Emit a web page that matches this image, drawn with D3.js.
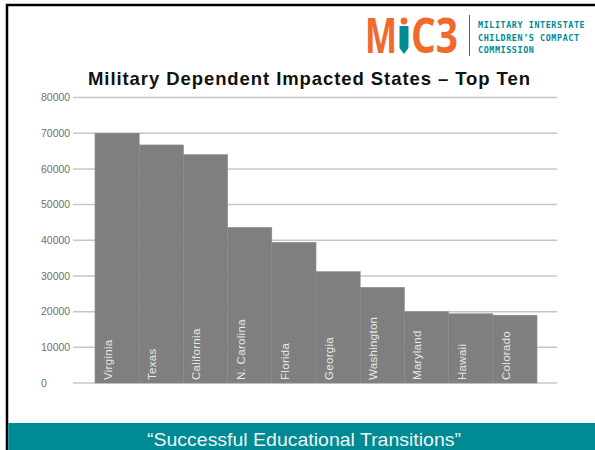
<!DOCTYPE html>
<html>
<head>
<meta charset="UTF-8">
<script src="https://d3js.org/d3.v7.min.js"></script>
<style>
  body { margin: 0; background: #fff; }
  svg { display: block; }
</style>
</head>
<body>
<div id="chart"></div>
<script>
// chart data
var states = ["Virginia", "Texas", "California", "N. Carolina", "Florida",
              "Georgia", "Washington", "Maryland", "Hawaii", "Colorado"];
var dependents = [70000, 66700, 64000, 43600, 39400, 31200, 26800, 20000, 19400, 19000];
var yTicks = [0, 10000, 20000, 30000, 40000, 50000, 60000, 70000, 80000];

var W = 595, H = 450;
var teal = "#008a93", orange = "#f26a2a";

var svg = d3.select("#chart").append("svg")
    .attr("width", W).attr("height", H);

// slide frame
svg.append("line").attr("x1", 6).attr("x2", W).attr("y1", 5).attr("y2", 5)
    .attr("stroke", "#000").attr("stroke-width", 2.5);
svg.append("line").attr("x1", 7).attr("x2", 7).attr("y1", 4).attr("y2", H)
    .attr("stroke", "#000").attr("stroke-width", 2.5);

// logo
var logo = svg.append("g");
logo.append("text").attr("x", 365).attr("y", 53)
    .attr("textLength", 32).attr("lengthAdjust", "spacingAndGlyphs")
    .style("font-family", "Open Sans").style("font-weight", 700)
    .style("font-size", "49px").attr("fill", orange).text("M");
logo.append("text").attr("x", 411).attr("y", 53)
    .attr("textLength", 47).attr("lengthAdjust", "spacingAndGlyphs")
    .style("font-family", "Open Sans").style("font-weight", 700)
    .style("font-size", "49px").attr("fill", orange).text("C3");
// pencil "I"
logo.append("circle").attr("cx", 404).attr("cy", 21).attr("r", 3.4).attr("fill", orange);
logo.append("rect").attr("x", 399.5).attr("y", 26).attr("width", 9).attr("height", 22).attr("fill", teal);
logo.append("path").attr("d", "M399.5,48 L408.5,48 L404,54 Z").attr("fill", teal);
logo.append("line").attr("x1", 469.5).attr("x2", 469.5).attr("y1", 15).attr("y2", 56)
    .attr("stroke", teal).attr("stroke-width", 1);
logo.selectAll("text.org")
  .data(["MILITARY INTERSTATE", "CHILDREN\u2019S COMPACT", "COMMISSION"])
  .enter().append("text").attr("class", "org")
    .attr("x", 478).attr("y", function(d, i) { return 28 + i * 12.5; })
    .style("font-family", "DejaVu Sans Mono").style("font-weight", "bold")
    .style("font-size", "8.4px").style("letter-spacing", "0.6px")
    .attr("fill", teal).text(function(d) { return d; });

// title
svg.append("text").attr("x", 88).attr("y", 85)
    .attr("textLength", 442).attr("lengthAdjust", "spacing")
    .style("font-family", "Liberation Sans, Arial").style("font-weight", "bold")
    .style("font-size", "18.5px").attr("fill", "#111")
    .text("Military Dependent Impacted States \u2013 Top Ten");

// scales
var x = d3.scaleBand().domain(states).range([95, 537]).padding(0);
var y = d3.scaleLinear().domain([0, 80000]).range([383, 97.5]);

// gridlines
svg.append("g").selectAll("line").data(yTicks).enter().append("line")
    .attr("x1", 73).attr("x2", 557)
    .attr("y1", function(d) { return y(d); }).attr("y2", function(d) { return y(d); })
    .attr("stroke", "#c6c6c6").attr("stroke-width", 1.5);

// y labels
svg.append("g").selectAll("text").data(yTicks).enter().append("text")
    .attr("x", 41).attr("y", function(d) { return y(d); }).attr("dy", "0.35em")
    .style("font-family", "Liberation Sans, Arial").style("font-size", "10.5px")
    .attr("fill", "#707070").text(function(d) { return d; });

// bars
svg.append("g").selectAll("rect").data(states).enter().append("rect")
    .attr("x", function(d) { return x(d); })
    .attr("y", function(d, i) { return y(dependents[i]); })
    .attr("width", x.bandwidth())
    .attr("height", function(d, i) { return y(0) - y(dependents[i]); })
    .attr("fill", "#7f7f7f").attr("stroke", "#8b8b8b").attr("stroke-width", 0.6);

// bar labels
svg.append("g").selectAll("text").data(states).enter().append("text")
    .attr("transform", function(d) {
        return "translate(" + (x(d) + 13) + ",380) rotate(-90)";
    })
    .attr("dy", "0.35em")
    .style("font-family", "Liberation Sans, Arial").style("font-size", "11.5px")
    .style("letter-spacing", "0.3px")
    .attr("fill", "#e6e6e6").text(function(d) { return d; });

// footer band
svg.append("rect").attr("x", 8.25).attr("y", 423).attr("width", W - 8.25).attr("height", H - 423)
    .attr("fill", teal);
svg.append("text").attr("x", 147).attr("y", 446)
    .attr("textLength", 314).attr("lengthAdjust", "spacingAndGlyphs")
    .style("font-family", "Liberation Sans, Arial").style("font-size", "19px")
    .attr("fill", "#eef6f6").text("\u201cSuccessful Educational Transitions\u201d");
</script>
</body>
</html>
